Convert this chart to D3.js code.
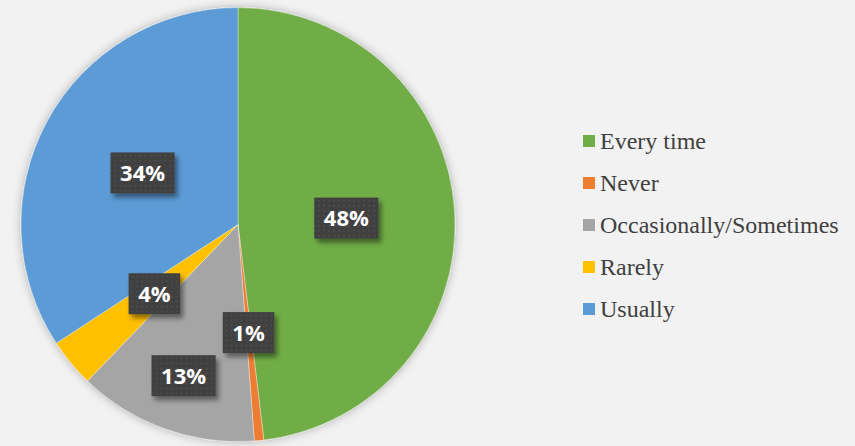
<!DOCTYPE html>
<html><head><meta charset="utf-8">
<script src="https://cdn.jsdelivr.net/npm/d3@7"></script>
<style>html,body{margin:0;padding:0;background:#f2f2f2;}svg{display:block;}</style>
</head><body>
<script>
const categories = ["Every time","Never","Occasionally/Sometimes","Rarely","Usually"];
const values = [48.1, 0.7, 13.4, 3.6, 34.2];
const colors = ["#70ad47","#ed7d31","#a5a5a5","#ffc000","#5b9bd5"];
const labelRadiusFactor = [0.5, 0.5, 0.74, 0.5, 0.5];

const W = 855, H = 446;
const cx = 238, cy = 224.6, R = 217;

const svg = d3.select("body").append("svg").attr("width", W).attr("height", H);
svg.append("rect").attr("width", W).attr("height", H).attr("fill", "#f2f2f2");
const defs = svg.append("defs");
const glow = defs.append("filter").attr("id","glow").attr("x","-20%").attr("y","-20%").attr("width","140%").attr("height","140%");
glow.append("feGaussianBlur").attr("in","SourceAlpha").attr("stdDeviation",5).attr("result","b");
glow.append("feFlood").attr("flood-color","#000").attr("flood-opacity",0.28);
glow.append("feComposite").attr("in2","b").attr("operator","in").attr("result","s");
const gm = glow.append("feMerge"); gm.append("feMergeNode").attr("in","s"); gm.append("feMergeNode").attr("in","SourceGraphic");

const sh = defs.append("filter").attr("id","boxsh").attr("x","-30%").attr("y","-30%").attr("width","170%").attr("height","170%");
sh.append("feGaussianBlur").attr("in","SourceAlpha").attr("stdDeviation",2.5).attr("result","b");
sh.append("feOffset").attr("in","b").attr("dx",3).attr("dy",4).attr("result","o");
sh.append("feFlood").attr("flood-color","#000").attr("flood-opacity",0.45);
sh.append("feComposite").attr("in2","o").attr("operator","in").attr("result","s");
const sm = sh.append("feMerge"); sm.append("feMergeNode").attr("in","s"); sm.append("feMergeNode").attr("in","SourceGraphic");

const pat = defs.append("pattern").attr("id","dots").attr("patternUnits","userSpaceOnUse").attr("width",5).attr("height",5);
pat.append("rect").attr("width",5).attr("height",5).attr("fill","#404040");
pat.append("rect").attr("x",2).attr("y",2).attr("width",1.4).attr("height",1.4).attr("fill","#565656");

const data = categories.map((c,i)=>({cat:c, value:values[i], color:colors[i], lr:labelRadiusFactor[i]}));
const pie = d3.pie().value(d=>d.value).sort(null);
const arcs = pie(data);
const arc = d3.arc().innerRadius(0).outerRadius(R);

const g = svg.append("g").attr("transform",`translate(${cx},${cy})`);
const pg = g.append("g").attr("filter","url(#glow)");
pg.selectAll("path").data(arcs).enter().append("path")
  .attr("d", arc).attr("fill", d=>d.data.color)
  .attr("stroke","rgba(255,255,255,0.45)").attr("stroke-width",0.8);

const total = d3.sum(values);
const lg = g.selectAll("g.lab").data(arcs).enter().append("g").attr("class","lab")
  .attr("transform", d=>{
    const a = (d.startAngle+d.endAngle)/2; const r = R*d.data.lr;
    return `translate(${r*Math.sin(a)},${-r*Math.cos(a)})`;
  });
lg.each(function(d){
  const s = d3.select(this);
  const txt = Math.round(d.data.value/total*100) + "%";
  const t = s.append("text").text(txt).attr("text-anchor","middle").attr("dy","0.36em")
    .attr("font-family","'Open Sans', sans-serif").attr("font-weight","bold").attr("font-size",22).attr("fill","#fff");
  const bb = t.node().getBBox();
  const w = bb.width + 19, h = 41;
  s.insert("rect","text").attr("x",-w/2).attr("y",-h/2).attr("width",w).attr("height",h)
    .attr("fill","url(#dots)").attr("filter","url(#boxsh)");
});

const legend = svg.append("g");
const ly0 = 149, lstep = 42;
categories.forEach((c,i)=>{
  const y = ly0 + i*lstep;
  legend.append("rect").attr("x",583).attr("y",y-14).attr("width",12).attr("height",12).attr("fill",colors[i]);
  legend.append("text").attr("x",600).attr("y",y).text(c)
    .attr("font-family","'Liberation Serif','Times New Roman',serif").attr("font-size",24).attr("fill","#404040");
});
</script>
</body></html>
